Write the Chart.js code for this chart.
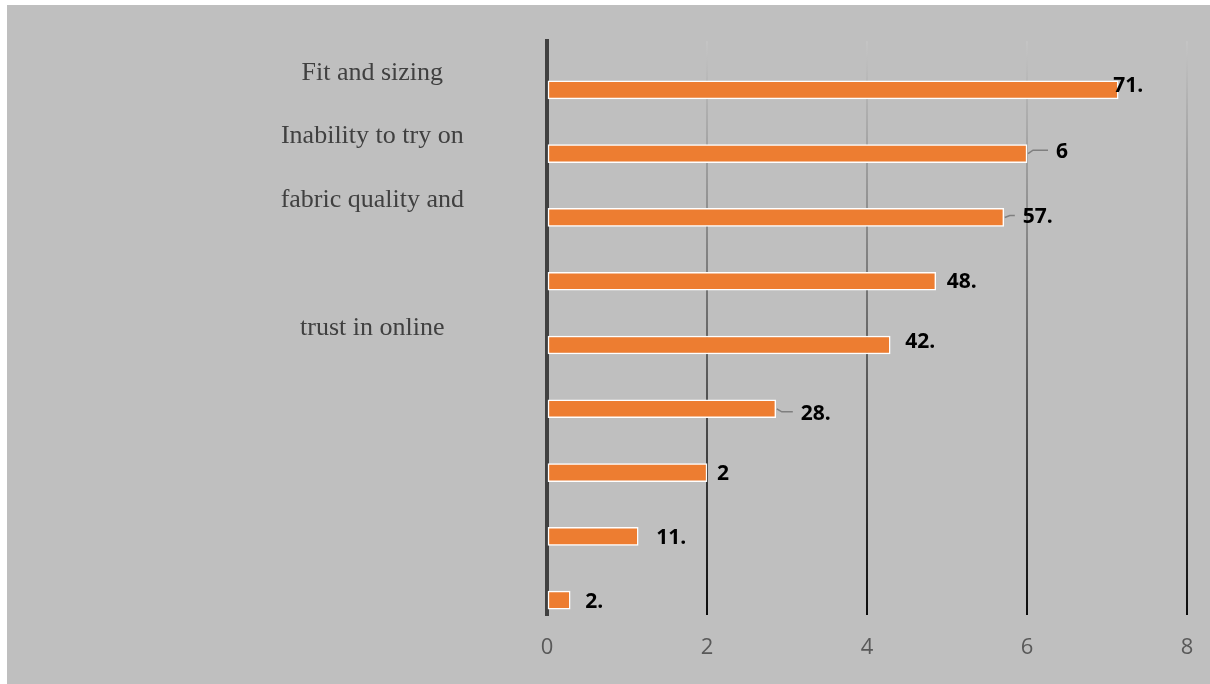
<!DOCTYPE html>
<html>
<head>
<meta charset="utf-8">
<script src="https://cdn.jsdelivr.net/npm/chart.js@4/dist/chart.umd.min.js"></script>
<style>
  html, body { margin: 0; padding: 0; background: #ffffff; }
  #wrap { position: absolute; left: 7px; top: 5px; width: 1203px; height: 679px; background: #bfbfbf; }
</style>
</head>
<body>
<div id="wrap"><canvas id="myChart"></canvas></div>
<script>
// categories, top to bottom
var categories = ['Fit and sizing', 'Inability to try on', 'fabric quality and', '', 'trust in online', '', '', '', ''];
// first series has no bars, it only takes the upper slot of each category
var emptySeries = [null, null, null, null, null, null, null, null, null];
var shares = [7.14, 6, 5.71, 4.86, 4.29, 2.86, 2, 1.14, 0.29];
var valueLabels = ['71.', '6', '57.', '48.', '42.', '28.', '2', '11.', '2.'];
var xTicks = [0, 2, 4, 6, 8];

// where each value label sits relative to the end of its bar
var labelDx = [-5, 29, 19, 11, 15, 25, 10, 18, 15];
var labelDy = [-4, -1.5, 0, 1, -3, 5, 1, 2, 2];
var leaders = [false, true, true, false, false, true, false, false, false];

var valueLabelPlugin = {
    id: 'valueLabels',
    afterDatasetsDraw: function(chart) {
        var c = chart.ctx;
        var meta = chart.getDatasetMeta(1);
        c.save();
        c.font = 'bold 21px "Open Sans"';
        c.textAlign = 'left';
        c.textBaseline = 'middle';
        meta.data.forEach(function(bar, i) {
            var lx = bar.x + labelDx[i];
            var ly = bar.y + labelDy[i];
            if (leaders[i]) {
                c.strokeStyle = '#7f7f7f';
                c.lineWidth = 1.5;
                c.beginPath();
                c.moveTo(bar.x + 1, bar.y);
                c.lineTo(bar.x + 6, ly - 2);
                c.lineTo(lx - 8, ly - 2);
                c.stroke();
            }
            c.fillStyle = '#000000';
            c.fillText(valueLabels[i], lx, ly);
        });
        c.restore();
    }
};

function gridColor(context) {
    if (context.tick && context.tick.value === 0) return 'rgba(0,0,0,0)';
    var chart = context.chart;
    var area = chart.chartArea;
    if (!area) return '#777777';
    var g = chart.ctx.createLinearGradient(0, area.top, 0, area.bottom);
    g.addColorStop(0, '#c4c4c4');
    g.addColorStop(0.35, '#858585');
    g.addColorStop(1, '#0d0d0d');
    return g;
}

var ctx = document.getElementById('myChart').getContext('2d');
var myChart = new Chart(ctx, {
    type: 'bar',
    data: {
        labels: categories,
        datasets: [
            {
                label: '',
                data: emptySeries,
                backgroundColor: '#a5a5a5'
            },
            {
                label: '',
                data: shares,
                backgroundColor: '#ed7d31',
                borderColor: '#ffffff',
                borderWidth: 1.5,
                borderSkipped: false
            }
        ]
    },
    options: {
        indexAxis: 'y',
        responsive: true,
        maintainAspectRatio: false,
        animation: false,
        barThickness: 34,
        maxBarThickness: 18,
        layout: {
            padding: { left: 0, right: 23, top: 36, bottom: 0 }
        },
        plugins: {
            legend: { display: false },
            tooltip: { enabled: false }
        },
        scales: {
            x: {
                min: 0,
                max: 8,
                afterFit: function(scale) { scale.height = 69; },
                afterBuildTicks: function(scale) {
                    scale.ticks = xTicks.map(function(v) { return { value: v }; });
                },
                // invisible tick marks push the labels down without widening the side padding
                grid: {
                    color: gridColor,
                    lineWidth: 2,
                    drawTicks: true,
                    tickLength: 20,
                    tickColor: 'rgba(0,0,0,0)'
                },
                border: { display: false },
                ticks: {
                    padding: 0,
                    color: '#595959',
                    font: { family: '"Open Sans"', size: 22 }
                }
            },
            y: {
                z: 1,
                afterFit: function(scale) { scale.width = 540; },
                // tick marks are not drawn; their length only moves the labels left
                grid: { display: false, drawTicks: true, tickLength: 83 },
                border: { color: '#404040', width: 4 },
                ticks: {
                    autoSkip: false,
                    crossAlign: 'center',
                    padding: 0,
                    color: '#404040',
                    font: { family: '"Liberation Serif"', size: 26 }
                }
            }
        }
    },
    plugins: [valueLabelPlugin]
});
</script>
</body>
</html>
